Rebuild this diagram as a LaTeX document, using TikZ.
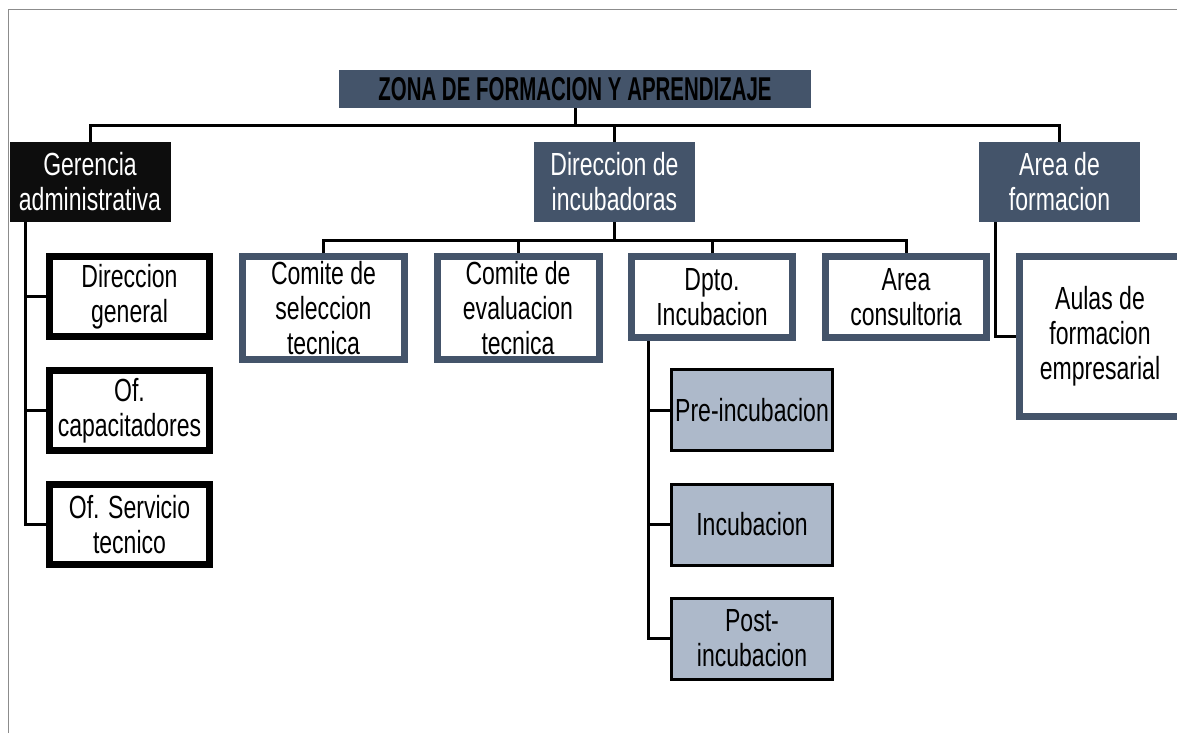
\documentclass[tikz,border=0pt]{standalone}
\usepackage{fontspec}
\setmainfont{Liberation Sans}[FakeStretch=0.72]
\newfontfamily\titlefont{Liberation Sans}[FakeStretch=0.62]
\definecolor{slate}{HTML}{44546A}
\definecolor{lightslate}{HTML}{ADB9CA}
\definecolor{nearblack}{HTML}{0D0D0D}
\definecolor{framegray}{HTML}{8C8C8C}
\tikzset{
  box/.style={rectangle, inner sep=0pt, align=center, font=\fontsize{32}{35}\selectfont},
  headbox/.style={box, fill=slate, text=white, minimum width=161pt, minimum height=80pt},
  slatebox/.style={box, draw=slate, line width=7pt, fill=white, text=black},
  blackbox/.style={box, draw=black, line width=7pt, fill=white, text=black,
                   minimum width=160pt, minimum height=80pt},
  lightbox/.style={box, draw=black, line width=3pt, fill=lightslate, text=black,
                   minimum width=161pt, minimum height=81pt},
  conn/.style={draw=black, line width=3pt},
  frameline/.style={draw=framegray, line width=1.5pt}
}
\begin{document}
\begin{tikzpicture}[x=1pt, y=-1pt]
\useasboundingbox (0,0) rectangle (1177,733);
\draw[frameline] (8.5,733) -- (8.5,9.5) -- (1177,9.5);

% top level
\node[box, fill=slate, text=black, minimum width=472pt, minimum height=38pt,
      font=\titlefont\bfseries\fontsize{33}{35}\selectfont] (title) at (575,89)
      {ZONA DE FORMACION Y APRENDIZAJE};
\node[headbox, fill=nearblack] (ger) at (90,182) {Gerencia\\administrativa};
\node[headbox] (dir) at (614.5,182) {Direccion de\\incubadoras};
\node[headbox] (area) at (1059.5,182) {Area de\\formacion};

% left branch
\node[blackbox] (dg) at (129.5,296.5) {Direccion\\general};
\node[blackbox] (ofc) at (129.5,410.5) {Of.\\capacitadores};
\node[blackbox] (ofs) at (129.5,524.5) {Of. Servicio\\tecnico};

% middle branch
\node[slatebox, minimum width=162pt, minimum height=103pt] (cs) at (323.5,308) {Comite de\\seleccion\\tecnica};
\node[slatebox, minimum width=162pt, minimum height=103pt] (ce) at (518,308) {Comite de\\evaluacion\\tecnica};
\node[slatebox, minimum width=161pt, minimum height=81pt] (dpto) at (712,297) {Dpto.\\Incubacion};
\node[slatebox, minimum width=161pt, minimum height=81pt] (ac) at (906,297) {Area\\consultoria};

\node[lightbox] (pre) at (752,410) {Pre-incubacion};
\node[lightbox] (inc) at (752,524.5) {Incubacion};
\node[lightbox] (post) at (752,638.5) {Post-\\incubacion};

% right branch
\node[slatebox, minimum width=161pt, minimum height=160pt] (aulas) at (1100,336.5) {Aulas de\\formacion\\empresarial};

% connector helpers
\coordinate (bus1) at (0,126);
\coordinate (bus2) at (0,240);
\coordinate (gx) at (25,0);
\coordinate (dx) at (648,0);
\coordinate (ax) at (995,0);

% connectors
\draw[conn] (title.south) -- (title.south |- bus1);
\draw[conn] (ger.north) -- (ger.north |- bus1) -- (area.north |- bus1) -- (area.north);
\draw[conn] (dir.north) -- (dir.north |- bus1);

\draw[conn] (ger.south -| gx) |- (ofs.west);
\draw[conn] (gx |- dg.west) -- (dg.west);
\draw[conn] (gx |- ofc.west) -- (ofc.west);

\draw[conn] (dir.south) -- (dir.south |- bus2);
\draw[conn] (cs.north) -- (cs.north |- bus2) -- (ac.north |- bus2) -- (ac.north);
\draw[conn] (ce.north |- bus2) -- (ce.north);
\draw[conn] (dpto.north |- bus2) -- (dpto.north);

\draw[conn] (dpto.south -| dx) |- (post.west);
\draw[conn] (dx |- pre.west) -- (pre.west);
\draw[conn] (dx |- inc.west) -- (inc.west);

\draw[conn] (area.south -| ax) |- (aulas.west);
\end{tikzpicture}
\end{document}
